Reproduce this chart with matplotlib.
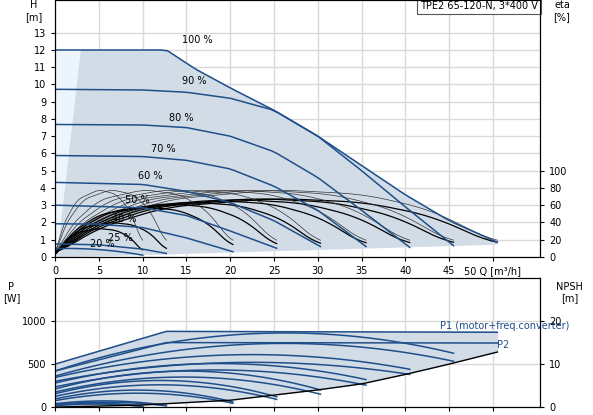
import matplotlib
matplotlib.use("Agg")
import matplotlib.pyplot as plt
import numpy as np

BLUE = "#1f4f8a"
SHADE = "#d2dce7"
LIGHT = "#edf5fc"

speeds = ["100 %", "90 %", "80 %", "70 %", "60 %", "50 %", "40 %", "25 %", "20 %"]
q_end = [50.5, 45.5, 40.5, 35.5, 30.3, 25.3, 20.3, 12.7, 10.0]

# head curves (Q, H)
h_curves = [
    [(0, 12.0), (12.7, 12.0), (16, 10.9), (20, 9.8), (25, 8.5), (30, 7.0), (35, 5.3), (40, 3.6), (45, 2.1), (50.5, 0.85)],
    [(0, 9.72), (10, 9.68), (15, 9.55), (20, 9.2), (25, 8.5), (30, 7.0), (35, 5.0), (40, 2.9), (45.5, 0.65)],
    [(0, 7.68), (10, 7.65), (15, 7.5), (20, 7.0), (25, 6.1), (30, 4.6), (35, 2.7), (40.5, 0.55)],
    [(0, 5.88), (10, 5.82), (15, 5.6), (20, 5.1), (25, 4.1), (30, 2.7), (35.5, 0.6)],
    [(0, 4.32), (10, 4.2), (15, 3.8), (20, 3.15), (25, 2.1), (30.3, 0.6)],
    [(0, 3.0), (10, 2.85), (15, 2.4), (20, 1.5), (25.3, 0.5)],
    [(0, 1.92), (5, 1.9), (10, 1.7), (15, 1.1), (20.3, 0.3)],
    [(0, 0.75), (5, 0.7), (10, 0.45), (12.7, 0.2)],
    [(0, 0.48), (5, 0.42), (10, 0.1)],
]
label_pos = [(14.5, 12.4), (14.5, 10.0), (13.0, 7.9), (11.0, 6.1), (9.5, 4.5), (8.0, 3.1), (6.5, 2.0), (6.0, 0.95), (4.0, 0.6)]

# efficiency curves: relative Q points, eta shape, peaks (thin and thick sets)
eta_qrel = [0, 0.08, 0.25, 0.5, 0.7, 0.85, 1.0]
eta_shape = [0, 0.45, 0.85, 1.0, 0.93, 0.7, 0.2]
eta_peak_thin = [78, 78, 78, 78, 78, 78, 78, 78, 78]
eta_peak_thick = [68, 68, 67, 66, 64, 62, 58, 40, 33]

# power curves: (Q, P1) and (Q, P2)
p1_curves = [
    [(0, 500), (12.7, 880), (50.5, 870)],
    [(0, 420), (28, 860), (45.5, 626)],
    [(0, 345), (23, 610), (40.5, 440)],
    [(0, 280), (20, 505), (35.5, 320)],
    [(0, 210), (18, 410), (30.3, 200)],
    [(0, 155), (15, 300), (25.3, 120)],
    [(0, 95), (12, 190), (20.3, 60)],
    [(0, 40), (7, 70), (12.7, 20)],
    [(0, 25), (5, 45), (10.0, 10)],
]
p2_curves = [
    [(0, 420), (12.7, 750), (50.5, 745)],
    [(0, 360), (27, 740), (45.5, 533)],
    [(0, 300), (22, 520), (40.5, 380)],
    [(0, 235), (20, 430), (35.5, 255)],
    [(0, 175), (17, 345), (30.3, 150)],
    [(0, 125), (15, 250), (25.3, 90)],
    [(0, 75), (12, 155), (20.3, 45)],
    [(0, 30), (7, 55), (12.7, 15)],
    [(0, 15), (5, 35), (10.0, 5)],
]
p2_bound = [(0, 0), (10, 25), (20, 80), (25, 140), (30, 200), (35, 270), (40, 380), (45, 500), (50.5, 640)]


def smooth(pts, n=60):
    q = np.array([p[0] for p in pts], float)
    v = np.array([p[1] for p in pts], float)
    x = np.linspace(q[0], q[-1], n)
    if len(q) == 3:
        return x, np.polyval(np.polyfit(q, v, 2), x)
    # piecewise-cubic-ish smoothing via dense interpolation of midpoints
    return x, np.interp(x, q, v)


fig = plt.figure(figsize=(5.93, 4.15), dpi=100)
ax = fig.add_axes([0.093, 0.381, 0.818, 0.619])
bx = fig.add_axes([0.093, 0.019, 0.818, 0.311])

# ---- top panel
env = [(0, 0), (0, 12), (12.7, 12)] + h_curves[0][2:] + [(50.5, 0.75)]
ax.fill([p[0] for p in env], [p[1] for p in env], color=LIGHT, zorder=1)
inner = [(0.3, 0), (3.0, 11.95), (12.7, 12)] + h_curves[0][2:] + [(50.5, 0.75)]
ax.fill([p[0] for p in inner], [p[1] for p in inner], color=SHADE, zorder=1)
for c, lab, lp in zip(h_curves, speeds, label_pos):
    x, y = smooth(c)
    ax.plot(x, y, color=BLUE, lw=1.1, zorder=3)
    ax.text(lp[0], lp[1], lab, fontsize=7, zorder=4)

for e, pt, pk in zip(q_end, eta_peak_thin, eta_peak_thick):
    q = np.array(eta_qrel) * e
    t = np.linspace(0, e, 60)
    y1 = np.interp(t, q, np.array(eta_shape) * pt / 20.0)
    y2 = np.interp(t, q, np.array(eta_shape) * pk / 20.0)
    ax.plot(t, np.convolve(np.pad(y1, 3, mode="edge"), np.ones(7) / 7, "valid"), color="#333333", lw=0.5, zorder=2)
    ax.plot(t, np.convolve(np.pad(y2, 3, mode="edge"), np.ones(7) / 7, "valid"), color="black", lw=0.9, zorder=2)

ax.set_xlim(0, 55.4)
ax.set_ylim(0, 14.9)
ax.set_xticks(np.arange(0, 55, 5))
ax.set_xticklabels([str(v) for v in range(0, 50, 5)] + ["50 Q [m³/h]"])
ax.set_yticks(range(0, 14))
ax.grid(True, color="#d9d9d9", lw=1, zorder=0)
ax.set_axisbelow(True)
ax.tick_params(labelsize=7, length=3)
ax.text(-0.045, 1.0, "H\n[m]", transform=ax.transAxes, fontsize=7, ha="center", va="top")
ax.text(1.045, 1.0, "eta\n[%]", transform=ax.transAxes, fontsize=7, ha="center", va="top")
ax.text(0.995, 0.995, "TPE2 65-120-N, 3*400 V", transform=ax.transAxes, fontsize=7, ha="right", va="top",
        bbox=dict(facecolor="white", edgecolor="#555555", lw=0.8, pad=2))
ax2 = ax.twinx()
ax2.set_ylim(0, 14.9 * 20)
ax2.set_yticks(range(0, 101, 20))
ax2.tick_params(labelsize=7, length=3)

# ---- bottom panel
poly = [(0, 500), (12.7, 880), (50.5, 870), (50.5, 660)] + p2_bound[::-1]
bx.fill([p[0] for p in poly], [p[1] for p in poly], color=SHADE, zorder=1)
for c1, c2 in zip(p1_curves, p2_curves):
    for c in (c1, c2):
        if c is p1_curves[0] or c is p2_curves[0]:
            bx.plot([p[0] for p in c], [p[1] for p in c], color=BLUE, lw=1.1, zorder=3)
        else:
            x, y = smooth(c)
            bx.plot(x, y, color=BLUE, lw=1.1, zorder=3)
xb = np.linspace(0, 50.5, 80)
bx.plot(xb, np.interp(xb, [p[0] for p in p2_bound], [p[1] for p in p2_bound]), color="black", lw=1.0, zorder=4)
bx.text(44, 905, "P1 (motor+freq.converter)", color=BLUE, fontsize=7)
bx.text(50.5, 690, "P2", color=BLUE, fontsize=7)
bx.set_xlim(0, 55.4)
bx.set_ylim(0, 1500)
bx.set_xticks(np.arange(0, 55, 5))
bx.set_xticklabels([])
bx.set_yticks([0, 500, 1000])
bx.grid(True, color="#d9d9d9", lw=1, zorder=0)
bx.set_axisbelow(True)
bx.tick_params(labelsize=7, length=3)
bx.text(-0.09, 0.97, "P\n[W]", transform=bx.transAxes, fontsize=7, ha="center", va="top")
bx.text(1.06, 0.97, "NPSH\n[m]", transform=bx.transAxes, fontsize=7, ha="center", va="top")
bx2 = bx.twinx()
bx2.set_ylim(0, 30)
bx2.set_yticks([0, 10, 20])
bx2.tick_params(labelsize=7, length=3)

fig.savefig("out.png", dpi=100)
